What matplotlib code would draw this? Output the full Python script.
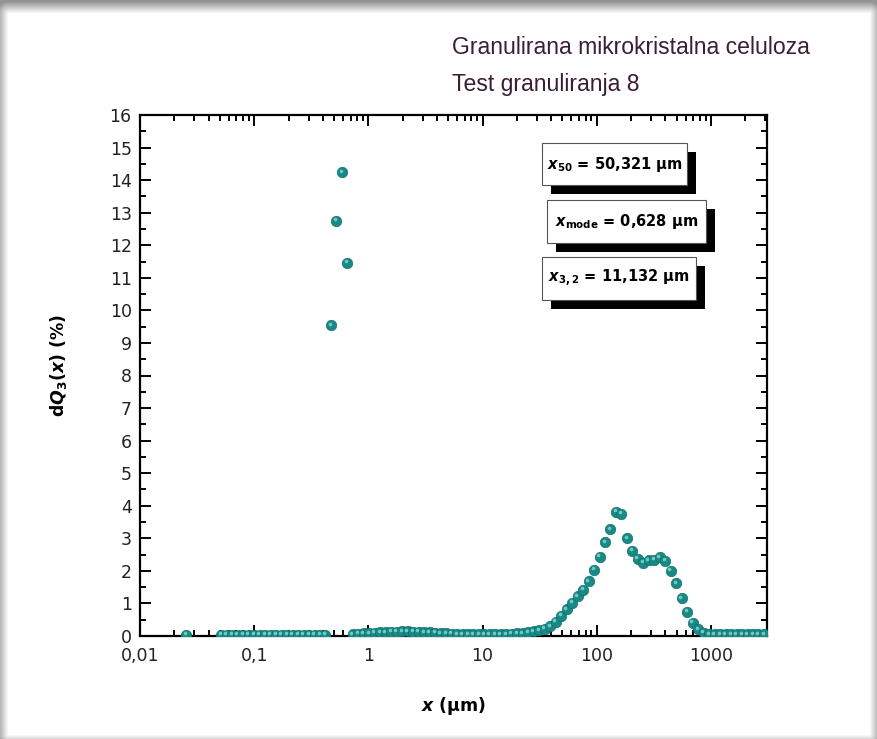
import numpy as np
import matplotlib
matplotlib.use("Agg")
import matplotlib.pyplot as plt
from matplotlib import transforms
from matplotlib.patches import Rectangle

# particle size grid (um) and dQ3 values (%)
x_lone = [0.0253]
y_lone = [0.04]

x_um = [0.0516, 0.0576, 0.0643, 0.0719, 0.0803, 0.0896, 0.1001, 0.1118, 0.1249, 0.1395,
        0.1558, 0.1740, 0.1943, 0.2170, 0.2424, 0.2707, 0.3023, 0.3377, 0.3771, 0.4212,
        0.4704, 0.5254, 0.5868, 0.6554, 0.7319, 0.8175, 0.9131, 1.020, 1.139, 1.272,
        1.421, 1.587, 1.772, 1.979, 2.211, 2.469, 2.757, 3.080, 3.440, 3.842,
        4.291, 4.792, 5.353, 5.978, 6.677, 7.457, 8.329, 9.301, 10.39, 11.60,
        12.96, 14.47, 16.16, 18.05, 20.16, 22.52, 25.15, 28.09, 31.37, 35.04,
        39.13, 43.71, 48.82, 54.52, 60.89, 68.01, 75.96, 84.84, 94.74, 105.8,
        118.2, 132.0, 147.4, 164.7, 183.9, 205.4, 229.4, 256.2, 286.2, 319.6,
        356.9, 398.6, 445.2, 497.3, 555.4, 620.3, 692.8, 773.8, 864.2, 965.3,
        1078, 1204, 1345, 1502, 1677, 1874, 2093, 2337, 2610, 2915]

dq3 = [0.04, 0.04, 0.04, 0.04, 0.04, 0.04, 0.04, 0.04, 0.04, 0.04,
       0.04, 0.04, 0.04, 0.04, 0.04, 0.04, 0.04, 0.04, 0.04, 0.04,
       9.55, 12.75, 14.25, 11.46, 0.06, 0.07, 0.08, 0.09, 0.10, 0.11,
       0.12, 0.13, 0.13, 0.14, 0.14, 0.13, 0.13, 0.12, 0.11, 0.10,
       0.09, 0.08, 0.07, 0.06, 0.06, 0.05, 0.05, 0.05, 0.05, 0.05,
       0.05, 0.06, 0.06, 0.07, 0.08, 0.09, 0.11, 0.14, 0.18, 0.22,
       0.30, 0.44, 0.62, 0.82, 1.02, 1.22, 1.42, 1.68, 2.03, 2.43,
       2.88, 3.28, 3.82, 3.75, 3.00, 2.62, 2.38, 2.25, 2.32, 2.34,
       2.42, 2.31, 2.00, 1.63, 1.16, 0.75, 0.41, 0.20, 0.10, 0.06,
       0.05, 0.05, 0.05, 0.05, 0.05, 0.05, 0.05, 0.05, 0.05, 0.05]

xtick_vals = [0.01, 0.1, 1, 10, 100, 1000]
xtick_labels = ["0,01", "0,1", "1", "10", "100", "1000"]
ytick_vals = list(range(0, 17))

title_lines = ["Granulirana mikrokristalna celuloza", "Test granuliranja 8"]
box_texts = [r"$x_{50}$ = 50,321 µm", r"$x_{\mathrm{mode}}$ = 0,628 µm", r"$x_{3,2}$ = 11,132 µm"]

plt.rcParams["mathtext.fontset"] = "custom"
plt.rcParams["mathtext.rm"] = "DejaVu Sans:bold"
plt.rcParams["mathtext.bf"] = "DejaVu Sans:bold"
plt.rcParams["mathtext.it"] = "DejaVu Sans:italic:bold"

W, H = 877, 739
fig = plt.figure(figsize=(W / 100, H / 100), dpi=100)

# grey frame with soft shadow around the white card
bg = fig.add_axes([0, 0, 1, 1], zorder=-10)
yy, xx = np.mgrid[0:H, 0:W]
dx = np.maximum(np.maximum(8 - xx, xx - 869), 0)
dy = np.maximum(np.maximum(13 - yy, yy - 734), 0)
d = np.sqrt(dx ** 2 + dy ** 2)
shade = 1 - 0.42 * np.clip(d / 12.0, 0, 1)
bg.imshow(np.dstack([shade] * 3), extent=[0, W, H, 0], aspect="auto")
bg.set_axis_off()

ax = fig.add_axes([140 / W, 1 - 636 / H, 627 / W, 521 / H])
ax.set_xscale("log")
ax.set_xlim(0.01, 3100)
ax.set_ylim(0, 16)

teal = "#178a86"
kw = dict(linestyle="none", marker="o", markersize=7.6, markerfacecolor=teal,
          markeredgecolor="#0e6764", markeredgewidth=0.4, zorder=3)
ax.plot(x_lone, y_lone, **kw)
ax.plot(x_um, dq3, **kw)
# small highlight for the sphere look
hl = transforms.offset_copy(ax.transData, fig=fig, x=-1.4, y=1.4, units="dots")
hkw = dict(linestyle="none", marker="o", markersize=2.6, markerfacecolor="#8fdcd8",
           markeredgewidth=0, alpha=0.75, zorder=4, transform=hl)
ax.plot(x_lone, y_lone, **hkw)
ax.plot(x_um, dq3, **hkw)

ax.set_xticks(xtick_vals)
ax.set_xticklabels(xtick_labels)
ax.xaxis.set_minor_locator(matplotlib.ticker.LogLocator(base=10, subs=np.arange(2, 10)))
ax.xaxis.set_minor_formatter(matplotlib.ticker.NullFormatter())
ax.set_yticks(ytick_vals)
ax.yaxis.set_minor_locator(matplotlib.ticker.MultipleLocator(0.5))

ax.tick_params(which="both", direction="in", top=True, right=True, width=1.4, colors="black",
               labelcolor="#222222", labelsize=12.5)
ax.tick_params(which="major", length=8)
ax.tick_params(which="minor", length=4.5)
ax.tick_params(axis="x", pad=8)
ax.tick_params(axis="y", pad=6)
for s in ax.spines.values():
    s.set_linewidth(1.6)

ax.set_ylabel(r"d$Q_{3}$($x$) (%)", fontsize=12.5, fontweight="bold")
ax.yaxis.set_label_coords(-0.113, 0.52)
ax.set_xlabel(r"$x$ (µm)", fontsize=12.5, fontweight="bold")
ax.xaxis.set_label_coords(0.5, -0.113)

fig.text(452 / W, 1 - 48 / H, title_lines[0], fontsize=16.6, family="Liberation Sans",
         color="#3b1d36", va="center", ha="left")
fig.text(452 / W, 1 - 85 / H, title_lines[1], fontsize=16.6, family="Liberation Sans",
         color="#3b1d36", va="center", ha="left")

# result boxes with drop shadow (pixel layout, top-origin)
boxes = [(542, 143, 145, 42), (547, 200, 159, 43), (542, 257, 154, 43)]
for (bx, by, bw, bh), txt in zip(boxes, box_texts):
    fig.add_artist(Rectangle(((bx + 9) / W, 1 - (by + bh + 9) / H), bw / W, bh / H,
                             transform=fig.transFigure, facecolor="black", edgecolor="none", zorder=5))
    fig.add_artist(Rectangle((bx / W, 1 - (by + bh) / H), bw / W, bh / H,
                             transform=fig.transFigure, facecolor="white", edgecolor="#555555",
                             linewidth=0.8, zorder=6))
    fig.text((bx + bw / 2) / W, 1 - (by + bh / 2) / H, txt, fontsize=10.5, fontweight="bold",
             ha="center", va="center", zorder=7)

fig.savefig("out.png", dpi=100)
